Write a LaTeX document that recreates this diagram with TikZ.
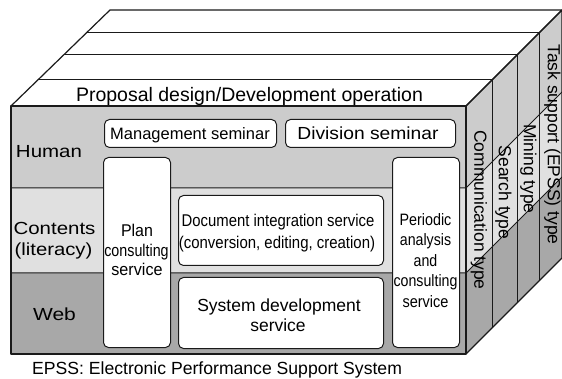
\documentclass[tikz,border=0pt]{standalone}
\usepackage{fontspec}
\setmainfont{Liberation Sans}
\usepackage{graphicx}
\newcommand\sx[3]{{\fontsize{#1}{#1}\selectfont\scalebox{#2}[1]{#3}}}
\definecolor{human}{HTML}{CCCCCC}
\definecolor{contents}{HTML}{E0E0E0}
\definecolor{web}{HTML}{A8A8A8}
\definecolor{ln}{HTML}{1A1A1A}
\begin{document}
\begin{tikzpicture}[x=1pt,y=-1pt,
  edge/.style={line width=1.2pt, draw=ln, line join=round},
  sep/.style={line width=1pt, draw=ln},
  rbox/.style={draw=ln, line width=1pt, fill=white, rounded corners=5pt, inner sep=0pt, anchor=north west},
  lbl/.style={inner sep=0pt, anchor=base, text=black},
  side/.style={inner sep=0pt, rotate=-90, text=black},
]
\useasboundingbox (0,0) rectangle (562,379);
\clip (0,0) rectangle (562,379);
% corners
\coordinate (FTL) at (11,106);
\coordinate (FTR) at (466,106);
\coordinate (FBL) at (11,354);
\coordinate (FBR) at (466,354);
\coordinate (BTL) at (110,10);
\coordinate (BTR) at (562,10);
\coordinate (BBR) at (562,258);
\coordinate (FH) at (11,188);
\coordinate (FHr) at (466,188);
\coordinate (FC) at (11,273);
\coordinate (FCr) at (466,273);
\coordinate (BH) at (562,92);
\coordinate (BC) at (562,177);
% front face bands
\fill[human] (FTL) rectangle (FHr);
\fill[contents] (FH) rectangle (FCr);
\fill[web] (FC) rectangle (FBR);
% right face bands
\fill[human] (FTR) -- (BTR) -- (BH) -- (FHr) -- cycle;
\fill[contents] (FHr) -- (BH) -- (BC) -- (FCr) -- cycle;
\fill[web] (FCr) -- (BC) -- (BBR) -- (FBR) -- cycle;
% top face
\fill[white] (FTL) -- (BTL) -- (BTR) -- (FTR) -- cycle;
% slab lines on top
\coordinate (T1l) at (37.8,80);  \coordinate (T1r) at (492,80);
\coordinate (T2l) at (63.6,55);  \coordinate (T2r) at (517,55);
\coordinate (T3l) at (86.8,32.5);\coordinate (T3r) at (539.5,32.5);
\draw[sep] (T1l) -- (T1r);
\draw[sep] (T2l) -- (T2r);
\draw[sep] (T3l) -- (T3r);
% slab lines on right
\coordinate (R1b) at (492,328);
\coordinate (R2b) at (517,303);
\coordinate (R3b) at (539.5,280.5);
\draw[sep] (T1r) -- (R1b);
\draw[sep] (T2r) -- (R2b);
\draw[sep] (T3r) -- (R3b);
% row lines
\draw[sep] (FH) -- (FHr) -- (BH);
\draw[sep] (FC) -- (FCr) -- (BC);
% outline
\draw[edge] (FTL) rectangle (FBR);
\draw[edge] (FTL) -- (BTL) -- (BTR) -- (FTR);
\draw[edge] (FTR) -- (BTR) -- (BBR) -- (FBR);
\draw[line width=1.8pt, draw=ln] (FBL) -- (FBR);
% boxes
\node[rbox, minimum width=172pt, minimum height=28pt] (mgmt) at (104,119) {};
\node[rbox, minimum width=170pt, minimum height=28pt] (div) at (285,119) {};
\node[rbox, minimum width=67pt, minimum height=190pt] (plan) at (103,157) {};
\node[rbox, minimum width=67pt, minimum height=190pt] (period) at (392,157) {};
\node[rbox, minimum width=205pt, minimum height=70pt] (doc) at (178,195) {};
\node[rbox, minimum width=205pt, minimum height=71pt] (sys) at (178,277) {};
% texts
\node[lbl] (tprop) at (249.5,102) {\sx{19.5}{1}{Proposal design/Development operation}};
\node[lbl] (thum) at (49,157.3) {\sx{17.5}{1.17}{Human}};
\node[lbl] (tcon) at (54.5,235) {\sx{17.5}{1.17}{Contents}};
\node[lbl] (tlit) at (53.5,255.5) {\sx{17.5}{1.16}{(literacy)}};
\node[lbl] (tweb) at (54.5,320) {\sx{17.5}{1.2}{Web}};
\node[lbl] (tmgmt) at (190,140) {\sx{16.5}{1}{Management seminar}};
\node[lbl] (tdiv) at (368,140) {\sx{17.5}{1.1}{Division seminar}};
\node[lbl] (tp1) at (137,236.7) {\sx{17}{0.94}{Plan}};
\node[lbl] (tp2) at (136.5,256.5) {\sx{17}{0.84}{consulting}};
\node[lbl] (tp3) at (137,276) {\sx{17}{0.95}{service}};
\node[lbl] (tq1) at (425.5,225.5) {\sx{16.5}{0.87}{Periodic}};
\node[lbl] (tq2) at (425.5,246) {\sx{16.5}{0.86}{analysis}};
\node[lbl] (tq3) at (425.5,266.5) {\sx{16.5}{0.86}{and}};
\node[lbl] (tq4) at (425.5,287) {\sx{16.5}{0.86}{consulting}};
\node[lbl] (tq5) at (425.5,307) {\sx{16.5}{0.88}{service}};
\node[lbl] (td1) at (278,226.7) {\sx{17}{0.875}{Document integration service}};
\node[lbl] (td2) at (277,249) {\sx{17}{0.88}{(conversion, editing, creation)}};
\node[lbl] (ts1) at (279,311.7) {\sx{17.5}{1}{System development}};
\node[lbl] (ts2) at (278,331.7) {\sx{17.5}{1}{service}};
\node[lbl, anchor=base west] (tepss) at (32,374.5) {\sx{17.6}{1}{EPSS: Electronic Performance Support System}};
% side texts
\node[side] (tcomm) at (479,210) {\sx{17.5}{1}{Communication type}};
\node[side] (tsearch) at (503.5,192.5) {\sx{17.5}{1}{Search type}};
\node[side] (tmine) at (528.5,169) {\sx{17.5}{1}{Mining type}};
\node[side] (ttask) at (552.5,144.5) {\sx{17.5}{1}{Task support (EPSS) type}};
\end{tikzpicture}
\end{document}
